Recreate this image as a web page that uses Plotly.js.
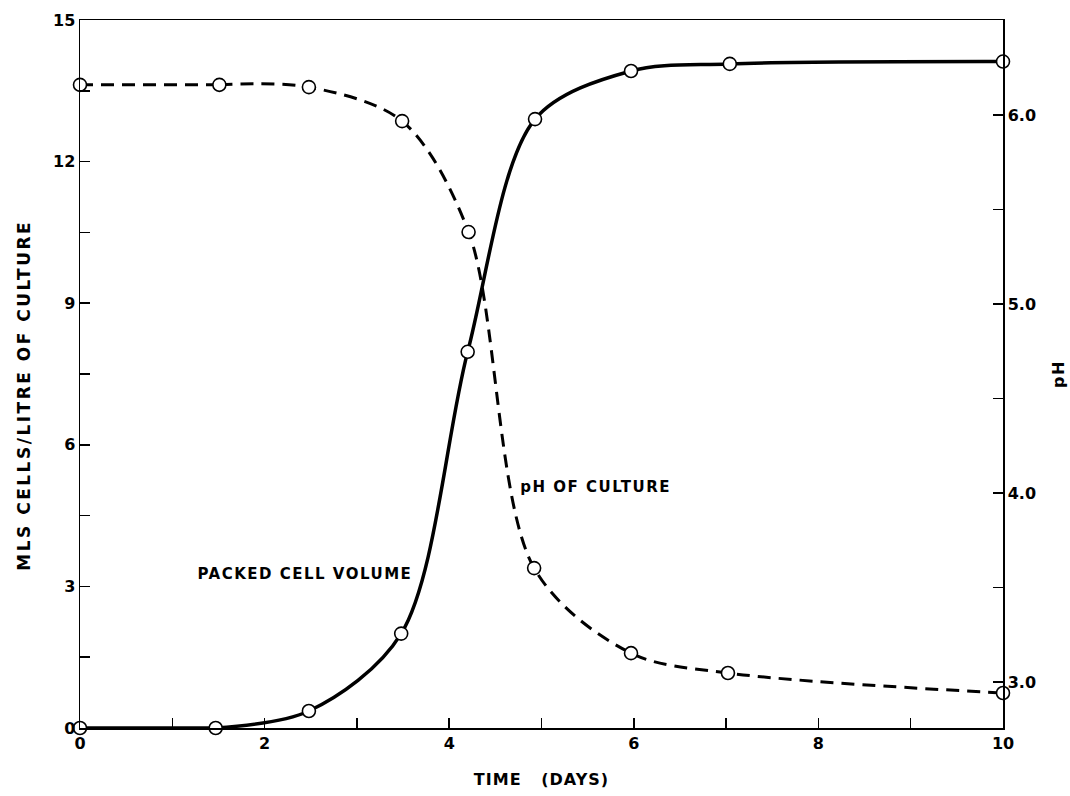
<!DOCTYPE html>
<html>
<head>
<meta charset="utf-8">
<script src="https://cdn.plot.ly/plotly-3.0.1.min.js"></script>
<style>
html,body{margin:0;padding:0;background:#fff;}
#chart{width:1070px;height:796px;}
#chart text.annotation-text{letter-spacing:1.5px;}
#chart text.xtitle{letter-spacing:1px;}
#chart text.y2title{letter-spacing:1.5px;}
</style>
</head>
<body>
<div id="chart"></div>
<script>
// Data
const timeCells = [0, 1.47, 2.48, 3.48, 4.2, 4.93, 5.97, 7.04, 10.0];
const packedCellVolume = [0, 0, 0.36, 2.0, 7.97, 12.9, 13.92, 14.07, 14.12];
const timePH = [0, 1.51, 2.48, 3.49, 4.21, 4.92, 5.97, 7.02, 10.0];
const phCulture = [6.16, 6.16, 6.148, 5.968, 5.381, 3.603, 3.153, 3.048, 2.942];
const leftTicks = [0, 3, 6, 9, 12, 15];
const rightTicks = [3.0, 4.0, 5.0, 6.0];
const xTicks = [0, 2, 4, 6, 8, 10];

const fontFam = '"DejaVu Sans", sans-serif';
const markerStyle = {symbol: 'circle', size: 13, color: '#fff', line: {color: '#000', width: 1.6}};
const solidLine = {color: '#000', width: 3.5};
const dashLine = {color: '#000', width: 3, dash: '13px,8px'};

const traces = [
  {x: timeCells.slice(0, 2), y: packedCellVolume.slice(0, 2), type: 'scatter', mode: 'lines',
   line: Object.assign({shape: 'linear'}, solidLine), hoverinfo: 'skip'},
  {x: timeCells.slice(1), y: packedCellVolume.slice(1), type: 'scatter', mode: 'lines',
   line: Object.assign({shape: 'spline', smoothing: 0.9}, solidLine), hoverinfo: 'skip'},
  {x: timePH.slice(0, 2), y: phCulture.slice(0, 2), type: 'scatter', mode: 'lines', yaxis: 'y2',
   line: Object.assign({shape: 'linear'}, dashLine), hoverinfo: 'skip'},
  {x: timePH.slice(1), y: phCulture.slice(1), type: 'scatter', mode: 'lines', yaxis: 'y2',
   line: Object.assign({shape: 'spline', smoothing: 0.9}, dashLine), hoverinfo: 'skip'},
  {x: timeCells, y: packedCellVolume, type: 'scatter', mode: 'markers',
   marker: markerStyle, cliponaxis: false, hoverinfo: 'skip'},
  {x: timePH, y: phCulture, type: 'scatter', mode: 'markers', yaxis: 'y2',
   marker: markerStyle, cliponaxis: false, hoverinfo: 'skip'}
];

const tickFont = {family: fontFam, size: 16, color: '#000', weight: 'bold'};
const titleFont = {family: fontFam, size: 16, color: '#000', weight: 'bold'};

const layout = {
  width: 1070, height: 796,
  margin: {l: 80, r: 67, t: 20, b: 68},
  paper_bgcolor: '#fff', plot_bgcolor: '#fff',
  showlegend: false,
  xaxis: {
    range: [0, 10], tickvals: xTicks, ticktext: xTicks.map(String),
    ticks: 'inside', ticklen: 10, tickwidth: 1.5, tickcolor: '#000',
    minor: {dtick: 1, tick0: 0, ticks: 'inside', ticklen: 10, tickwidth: 1.5, tickcolor: '#000', showgrid: false},
    showline: true, linecolor: '#000', linewidth: 1.5, mirror: true,
    showgrid: false, zeroline: false, tickfont: tickFont,
    title: {text: 'TIME&nbsp;&nbsp;&nbsp;(DAYS)', font: titleFont, standoff: 22}
  },
  yaxis: {
    range: [0, 15], tickvals: leftTicks, ticktext: leftTicks.map(String),
    ticks: 'inside', ticklen: 10, tickwidth: 1.5, tickcolor: '#000',
    minor: {dtick: 1.5, tick0: 0, ticks: 'inside', ticklen: 10, tickwidth: 1.5, tickcolor: '#000', showgrid: false},
    showline: true, linecolor: '#000', linewidth: 1.5,
    showgrid: false, zeroline: false, tickfont: tickFont
  },
  yaxis2: {
    overlaying: 'y', side: 'right',
    range: [2.757, 6.503], tickvals: rightTicks, ticktext: rightTicks.map(v => v.toFixed(1)),
    ticks: 'inside', ticklen: 10, tickwidth: 1.5, tickcolor: '#000',
    minor: {dtick: 0.5, tick0: 3, ticks: 'inside', ticklen: 10, tickwidth: 1.5, tickcolor: '#000', showgrid: false},
    showline: true, linecolor: '#000', linewidth: 1.5,
    showgrid: false, zeroline: false, tickfont: tickFont,
    title: {text: 'pH', font: titleFont, standoff: 18}
  },
  annotations: [
    {x: 0, y: 0.47, xref: 'paper', yref: 'paper', xshift: -68, textangle: -90,
     text: 'MLS CELLS/LITRE OF CULTURE', showarrow: false,
     font: {family: fontFam, size: 17, color: '#000', weight: 'bold'}},
    {x: 2.44, y: 3.26, xref: 'x', yref: 'y', text: 'PACKED CELL VOLUME', showarrow: false,
     font: {family: fontFam, size: 15, color: '#000', weight: 'bold'}},
    {x: 5.59, y: 5.1, xref: 'x', yref: 'y', text: 'pH OF CULTURE', showarrow: false,
     font: {family: fontFam, size: 15, color: '#000', weight: 'bold'}}
  ]
};

Plotly.newPlot('chart', traces, layout, {displayModeBar: false, staticPlot: true}).then(function () {
  const ann = document.querySelectorAll('#chart text.annotation-text');
  if (ann.length) ann[0].style.letterSpacing = '2.5px';
});
</script>
</body>
</html>
